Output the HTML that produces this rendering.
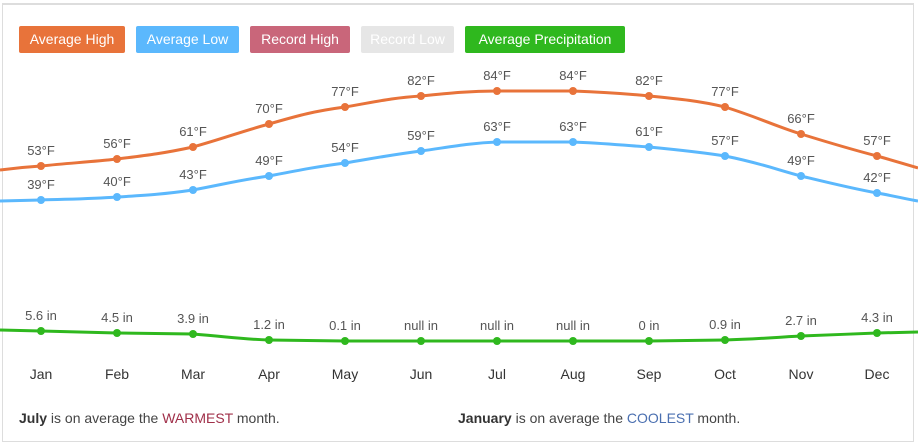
<!DOCTYPE html>
<html><head><meta charset="utf-8"><style>
body{margin:0;background:#fff;width:918px;height:447px;overflow:hidden;font-family:"Liberation Sans",sans-serif}
.frame{position:absolute;left:2px;top:3px;width:912px;height:439px;border:1px solid #ddd;border-top:2px solid #ddd;box-sizing:border-box}
</style></head><body>
<div class="frame"></div>
<svg width="918" height="447" style="position:absolute;left:0;top:0" font-family="Liberation Sans, sans-serif">
<g font-size="14" fill="#fff">
<rect x="19" y="26" width="106" height="27" rx="2" fill="#e8733a"/><text x="72" y="44" text-anchor="middle">Average High</text>
<rect x="136" y="26" width="103" height="27" rx="2" fill="#5bb8fd"/><text x="187.5" y="44" text-anchor="middle">Average Low</text>
<rect x="250" y="26" width="100" height="27" rx="2" fill="#c9667a"/><text x="300" y="44" text-anchor="middle">Record High</text>
<rect x="361" y="26" width="93" height="27" rx="2" fill="#e6e6e6"/><text x="407.5" y="44" text-anchor="middle">Record Low</text>
<rect x="465" y="26" width="160" height="27" rx="2" fill="#2fb81e"/><text x="545" y="44" text-anchor="middle">Average Precipitation</text>
</g>
<g fill="none" stroke-width="3">
<path stroke="#e8733a" d="M0,170 C15,168 25,167 41,166 C70,163 90,162 117,159 C150,155 165,153 193,147 C225,138 240,132 269,124 C300,115 315,111 345,107 C375,102 390,98 421,96 C450,93 470,91 497,91 L573,91 C600,92 620,93 649,96 C680,99 700,101 725,107 C760,118 775,126 801,134 C830,143 850,149 877,156 C895,161 905,164 918,168"/>
<path stroke="#5bb8fd" d="M0,201 L41,200 C70,199 90,199 117,197 C150,195 165,194 193,190 C225,184 240,180 269,176 C300,170 315,167 345,163 C375,158 390,155 421,151 C450,147 470,143 497,142 L573,142 C600,143 620,145 649,147 C680,150 700,152 725,156 C760,163 775,169 801,176 C830,183 850,188 877,193 C895,196 905,199 918,201"/>
<path stroke="#2fb81e" d="M0,330 L41,331 L117,333 L193,334 C230,337 240,339 269,340 L345,341 L649,341 L725,340 C760,339 780,337 801,336 C830,335 850,334 877,333 L918,332"/>
</g>
<g fill="#e8733a">
<circle cx="41" cy="166" r="4"/><circle cx="117" cy="159" r="4"/><circle cx="193" cy="147" r="4"/><circle cx="269" cy="124" r="4"/><circle cx="345" cy="107" r="4"/><circle cx="421" cy="96" r="4"/><circle cx="497" cy="91" r="4"/><circle cx="573" cy="91" r="4"/><circle cx="649" cy="96" r="4"/><circle cx="725" cy="107" r="4"/><circle cx="801" cy="134" r="4"/><circle cx="877" cy="156" r="4"/></g>
<g fill="#5bb8fd">
<circle cx="41" cy="200" r="4"/><circle cx="117" cy="197" r="4"/><circle cx="193" cy="190" r="4"/><circle cx="269" cy="176" r="4"/><circle cx="345" cy="163" r="4"/><circle cx="421" cy="151" r="4"/><circle cx="497" cy="142" r="4"/><circle cx="573" cy="142" r="4"/><circle cx="649" cy="147" r="4"/><circle cx="725" cy="156" r="4"/><circle cx="801" cy="176" r="4"/><circle cx="877" cy="193" r="4"/></g>
<g fill="#2fb81e">
<circle cx="41" cy="331" r="4"/><circle cx="117" cy="333" r="4"/><circle cx="193" cy="334" r="4"/><circle cx="269" cy="340" r="4"/><circle cx="345" cy="341" r="4"/><circle cx="421" cy="341" r="4"/><circle cx="497" cy="341" r="4"/><circle cx="573" cy="341" r="4"/><circle cx="649" cy="341" r="4"/><circle cx="725" cy="340" r="4"/><circle cx="801" cy="336" r="4"/><circle cx="877" cy="333" r="4"/></g>
<g font-size="13" fill="#555" text-anchor="middle">
<text x="41" y="155">53°F</text><text x="117" y="148">56°F</text><text x="193" y="136">61°F</text><text x="269" y="113">70°F</text><text x="345" y="96">77°F</text><text x="421" y="85">82°F</text><text x="497" y="80">84°F</text><text x="573" y="80">84°F</text><text x="649" y="85">82°F</text><text x="725" y="96">77°F</text><text x="801" y="123">66°F</text><text x="877" y="145">57°F</text>
<text x="41" y="189">39°F</text><text x="117" y="186">40°F</text><text x="193" y="179">43°F</text><text x="269" y="165">49°F</text><text x="345" y="152">54°F</text><text x="421" y="140">59°F</text><text x="497" y="131">63°F</text><text x="573" y="131">63°F</text><text x="649" y="136">61°F</text><text x="725" y="145">57°F</text><text x="801" y="165">49°F</text><text x="877" y="182">42°F</text>
<text x="41" y="320">5.6 in</text><text x="117" y="322">4.5 in</text><text x="193" y="323">3.9 in</text><text x="269" y="329">1.2 in</text><text x="345" y="330">0.1 in</text><text x="421" y="330">null in</text><text x="497" y="330">null in</text><text x="573" y="330">null in</text><text x="649" y="330">0 in</text><text x="725" y="329">0.9 in</text><text x="801" y="325">2.7 in</text><text x="877" y="322">4.3 in</text>
</g>
<g font-size="14" fill="#333" text-anchor="middle">
<text x="41" y="379">Jan</text><text x="117" y="379">Feb</text><text x="193" y="379">Mar</text><text x="269" y="379">Apr</text><text x="345" y="379">May</text><text x="421" y="379">Jun</text><text x="497" y="379">Jul</text><text x="573" y="379">Aug</text><text x="649" y="379">Sep</text><text x="725" y="379">Oct</text><text x="801" y="379">Nov</text><text x="877" y="379">Dec</text>
</g>
<g font-size="14" fill="#444">
<text x="19" y="423"><tspan font-weight="bold" fill="#333">July</tspan> is on average the <tspan fill="#a0304a">WARMEST</tspan> month.</text>
<text x="458" y="423"><tspan font-weight="bold" fill="#333">January</tspan> is on average the <tspan fill="#4a6fb0">COOLEST</tspan> month.</text>
</g>
</svg>
</body></html>
